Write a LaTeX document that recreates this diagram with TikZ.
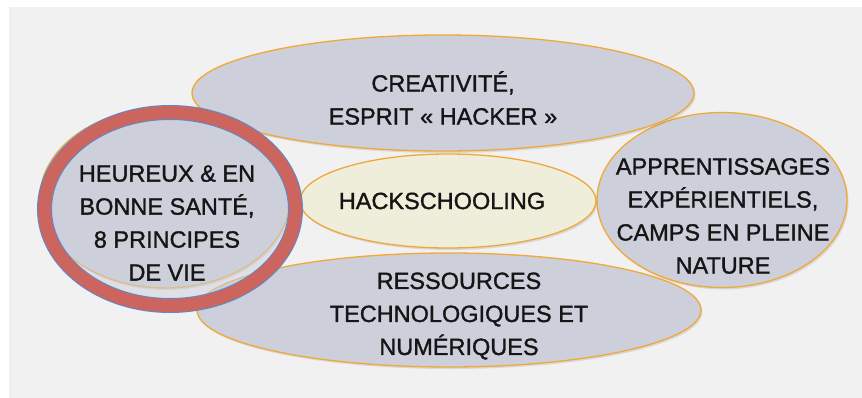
\documentclass[tikz,border=0pt]{standalone}
\usepackage{fontspec}
\setmainfont{Liberation Sans}
\newfontfamily\ovalfont[FakeBold=1.3]{Liberation Sans}
\usetikzlibrary{shapes.geometric,shadows}
\definecolor{bggray}{HTML}{F1F1F1}
\definecolor{ovalfill}{HTML}{CDD0DB}
\definecolor{midfill}{HTML}{EEEEDA}
\definecolor{orangeline}{HTML}{F0A838}
\definecolor{ringred}{HTML}{CC655D}
\definecolor{blueedge}{HTML}{5A8AD0}
\definecolor{textdark}{HTML}{151515}
\begin{document}
\begin{tikzpicture}[x=1pt,y=-1pt,
  oval/.style={ellipse, draw=orangeline, line width=1.3pt, fill=ovalfill, inner sep=0pt,
    drop shadow={opacity=0.22, shadow xshift=1.5pt, shadow yshift=-2pt}},
  ovaltext/.style={font=\ovalfont\fontsize{23.5}{33}\selectfont, text=textdark, align=center, inner sep=0pt}]
\useasboundingbox (0,0) rectangle (862,398);
\fill[white] (0,0) rectangle (862,398);
\fill[bggray] (9,7) rectangle (862,398);
% ellipses
\node[oval, minimum width=250pt, minimum height=175pt] (exp) at (722,200) {};
\node[oval, minimum width=502pt, minimum height=116pt] (creat) at (443,93) {};
\node[oval, minimum width=504pt, minimum height=114pt] (ress) at (449,310) {};
\node[oval, fill=midfill, minimum width=296pt, minimum height=94pt] (hack) at (448,201) {};
\node[oval, minimum width=250pt, minimum height=180pt] (sante) at (165,198) {};
% ring
\node[ellipse, inner sep=0pt, minimum width=251pt, minimum height=193pt,
  draw=blueedge, line width=15pt, fill=ovalfill, fill opacity=0.5, draw opacity=1] (ring) at (170,209) {};
\node[ellipse, inner sep=0pt, minimum width=251pt, minimum height=193pt,
  draw=ringred, line width=13pt] (ringcore) at (ring.center) {};
% texts
\node[ovaltext] (creatT) at (443,98) {CREATIVITÉ,\\ESPRIT « HACKER »};
\node[ovaltext] (hackT) at (442,201) {HACKSCHOOLING};
\node[ovaltext] (ressT) at (459,316) {RESSOURCES\\TECHNOLOGIQUES ET\\NUMÉRIQUES};
\node[ovaltext] (expT) at (723,216) {APPRENTISSAGES\\EXPÉRIENTIELS,\\CAMPS EN PLEINE\\NATURE};
\node[ovaltext] (santeT) at (167,223) {HEUREUX \& EN\\BONNE SANTÉ,\\8 PRINCIPES\\DE VIE};
\end{tikzpicture}
\end{document}
